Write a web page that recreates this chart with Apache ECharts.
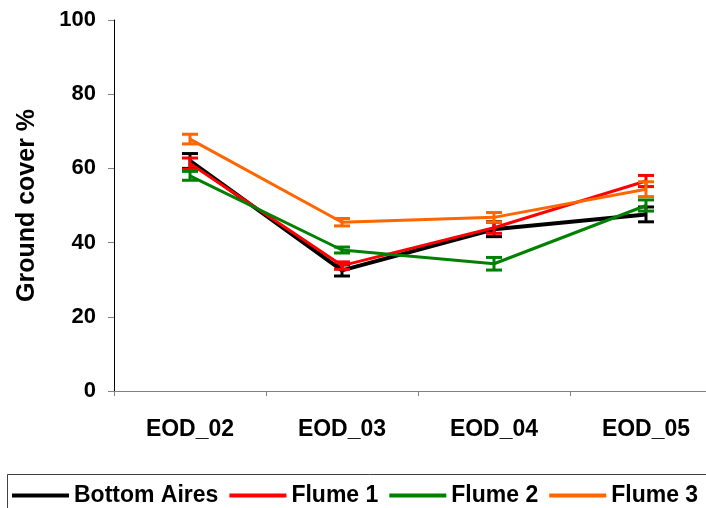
<!DOCTYPE html>
<html>
<head>
<meta charset="utf-8">
<script src="https://cdn.jsdelivr.net/npm/echarts@6/dist/echarts.min.js"></script>
<style>
  html, body { margin: 0; padding: 0; background: #fff; overflow: hidden; }
  #chart { width: 730px; height: 508px; }
</style>
</head>
<body>
<div id="chart"></div>
<script>
// Sampling events (x axis)
const categories = ['EOD_02', 'EOD_03', 'EOD_04', 'EOD_05'];

// Mean ground cover (%) per site
const bottomAires = [62.0, 32.5, 43.6, 47.6];
const flume1      = [61.3, 33.8, 44.0, 56.6];
const flume2      = [58.0, 38.0, 34.3, 50.0];
const flume3      = [67.9, 45.5, 46.8, 54.4];

// Standard errors (± %)
const bottomAiresErr = [2.0, 1.5, 2.0, 2.0];
const flume1Err      = [1.5, 1.0, 1.5, 1.5];
const flume2Err      = [1.2, 0.8, 1.7, 1.5];
const flume3Err      = [1.3, 1.0, 1.3, 2.0];

const seriesDefs = [
  { name: 'Bottom Aires', values: bottomAires, errs: bottomAiresErr, color: '#000000', width: 4 },
  { name: 'Flume 1',      values: flume1,      errs: flume1Err,      color: '#ff0000', width: 3 },
  { name: 'Flume 2',      values: flume2,      errs: flume2Err,      color: '#008000', width: 3 },
  { name: 'Flume 3',      values: flume3,      errs: flume3Err,      color: '#ff6600', width: 3 }
];

const font = 'Arial, "Liberation Sans", sans-serif';
const chart = echarts.init(document.getElementById('chart'), null, { renderer: 'canvas' });

// Vertical whisker with caps, placed through the axis scales
function errorBarRenderer(color) {
  return function (params, api) {
    const xi = api.value(0);
    const lo = api.coord([xi, api.value(1)]);
    const hi = api.coord([xi, api.value(2)]);
    const half = 8;
    const style = { stroke: color, lineWidth: 3 };
    return {
      type: 'group',
      children: [
        { type: 'line', shape: { x1: lo[0], y1: lo[1], x2: hi[0], y2: hi[1] }, style: style },
        { type: 'line', shape: { x1: lo[0] - half, y1: lo[1], x2: lo[0] + half, y2: lo[1] }, style: style },
        { type: 'line', shape: { x1: hi[0] - half, y1: hi[1], x2: hi[0] + half, y2: hi[1] }, style: style }
      ]
    };
  };
}

const series = [];
seriesDefs.forEach(function (d, k) {
  series.push({
    name: d.name,
    type: 'line',
    data: d.values,
    color: d.color,
    itemStyle: { color: d.color },
    symbol: 'none',
    lineStyle: { color: d.color, width: d.width },
    z: 3 + k * 2,
    animation: false
  });
  series.push({
    name: d.name,
    type: 'custom',
    renderItem: errorBarRenderer(d.color),
    itemStyle: { color: d.color },
    data: d.values.map(function (v, i) { return [i, v - d.errs[i], v + d.errs[i]]; }),
    encode: { x: 0, y: [1, 2] },
    z: 2 + k * 2,
    silent: true
  });
});

chart.setOption({
  animation: false,
  backgroundColor: '#ffffff',
  // the plot area runs slightly past the visible right edge of the page
  grid: { left: 114, right: 8, top: 20, bottom: 117 },
  xAxis: {
    type: 'category',
    data: categories,
    boundaryGap: true,
    axisLine: { lineStyle: { color: '#808080', width: 1 } },
    axisTick: { show: true, inside: false, length: 5, lineStyle: { color: '#808080' } },
    axisLabel: { margin: 27, color: '#000', fontFamily: font, fontWeight: 'bold', fontSize: 23 },
    splitLine: { show: false }
  },
  yAxis: {
    type: 'value',
    min: 0,
    max: 100,
    interval: 20,
    name: 'Ground cover %',
    nameLocation: 'middle',
    nameGap: 74,
    nameTextStyle: { color: '#000', fontFamily: font, fontWeight: 'bold', fontSize: 25 },
    axisLine: { show: true, lineStyle: { color: '#000', width: 1 } },
    axisTick: { show: true, inside: false, length: 6, lineStyle: { color: '#808080' } },
    axisLabel: { margin: 18, color: '#000', fontFamily: font, fontWeight: 'bold', fontSize: 22 },
    splitLine: { show: false }
  },
  legend: {
    left: 12,
    top: 484,
    padding: 0,
    itemWidth: 57,
    itemHeight: 4,
    itemGap: 11,
    icon: 'rect',
    data: seriesDefs.map(function (d) {
      return { name: d.name, itemStyle: { color: d.color } };
    }),
    textStyle: { color: '#000', fontFamily: font, fontWeight: 'bold', fontSize: 23 },
    selectedMode: false
  },
  graphic: [
    {
      type: 'rect',
      left: 5, top: 472,
      shape: { width: 760, height: 60 },
      style: { fill: 'none', stroke: '#404040', lineWidth: 1 },
      z: -1
    }
  ],
  series: series
});
</script>
</body>
</html>
